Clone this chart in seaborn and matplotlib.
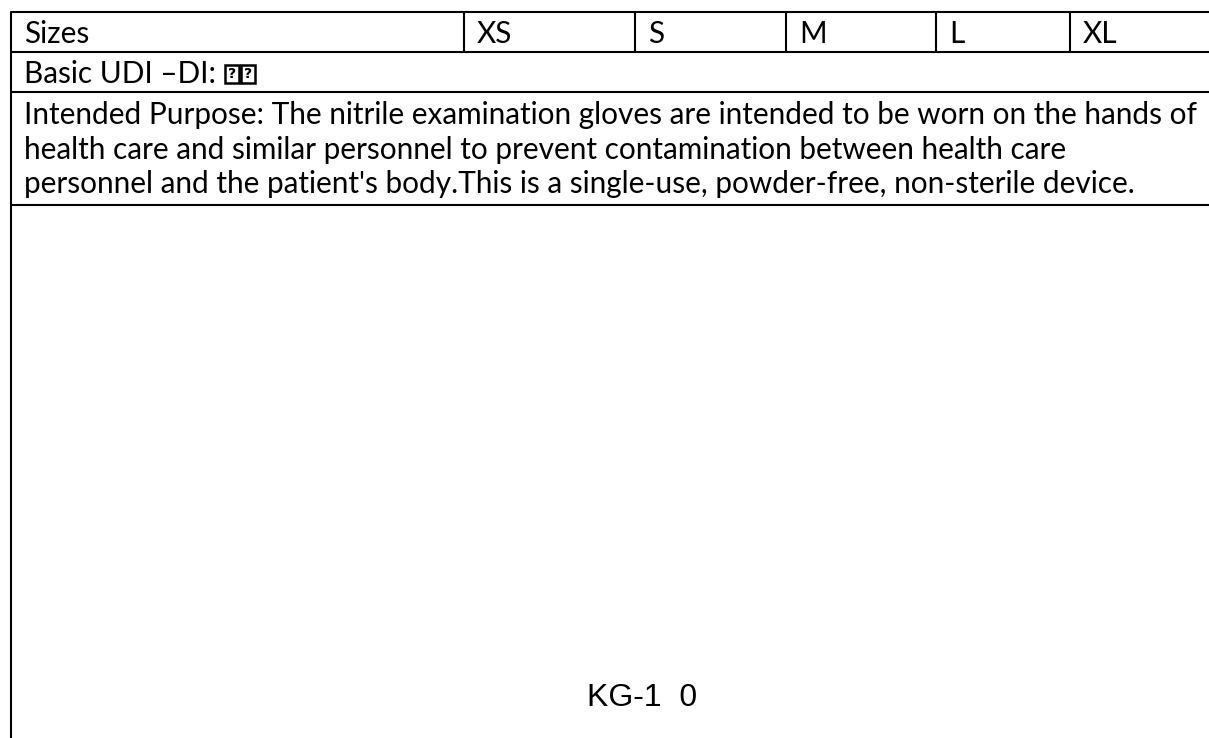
import matplotlib.pyplot as plt
import matplotlib.patches as mpatches
import seaborn as sns

sns.set_theme(style="white")
plt.rcParams['font.family'] = ['Lato', 'DejaVu Sans']
plt.rcParams['text.color'] = 'black'

# Table content
size_header = "Sizes"
sizes = ["XS", "S", "M", "L", "XL"]
udi_label = "Basic UDI \u2013DI: "
udi_missing = ["?", "?"]  # glyphs missing in the source document
purpose_lines = [
    "Intended Purpose: The nitrile examination gloves are intended to be worn on the hands of",
    "health care and similar personnel to prevent contamination between health care",
    "personnel and the patient's body.This is a single-use, powder-free, non-sterile device.",
]
footer_code = "KG-1  0"

# Layout (pixels)
W, H = 1209, 738
left = 11
row_lines = [12, 52, 92, 205]
col_lines = [464, 635, 786, 936, 1070]
header_base = [43, 83]
purpose_base = 124
line_step = 34.5
text_pad = 13
body_size = 21.4
lw = 1.5

fig = plt.figure(figsize=(W / 100, H / 100), dpi=100)
ax = fig.add_axes([0, 0, 1, 1])
ax.set_xlim(0, W)
ax.set_ylim(H, 0)
ax.axis("off")

# Grid lines
for y in row_lines:
    ax.plot([left, W], [y, y], color="black", lw=lw, solid_capstyle="butt")
ax.plot([left, left], [row_lines[0], H], color="black", lw=lw)
for x in col_lines:
    ax.plot([x, x], [row_lines[0], row_lines[1]], color="black", lw=lw)

# Header row
ax.text(left + text_pad, header_base[0], size_header, va="baseline", ha="left", fontsize=body_size)
for x, s in zip(col_lines, sizes):
    ax.text(x + text_pad, header_base[0], s, va="baseline", ha="left", fontsize=body_size)

# UDI row
t = ax.text(left + text_pad, header_base[1], udi_label, va="baseline", ha="left", fontsize=body_size)
fig.canvas.draw()
bb = t.get_window_extent().transformed(ax.transData.inverted())
bx = bb.x1 + 1
for ch in udi_missing:
    ax.add_patch(mpatches.Rectangle((bx, header_base[1] - 18), 14, 18, fill=False,
                                    edgecolor="black", lw=1.8))
    ax.text(bx + 7, header_base[1] - 9, ch, va="center", ha="center", fontsize=10,
            fontweight="bold", family=["DejaVu Sans"])
    bx += 16

# Intended purpose rows
for i, line in enumerate(purpose_lines):
    ax.text(left + text_pad, purpose_base + line_step * i, line,
            va="baseline", ha="left", fontsize=body_size)

# Footer code
ax.text(642, 698, footer_code, va="center", ha="center", fontsize=23,
        family=["Liberation Sans", "DejaVu Sans"])

fig.savefig("out.png", dpi=100)
